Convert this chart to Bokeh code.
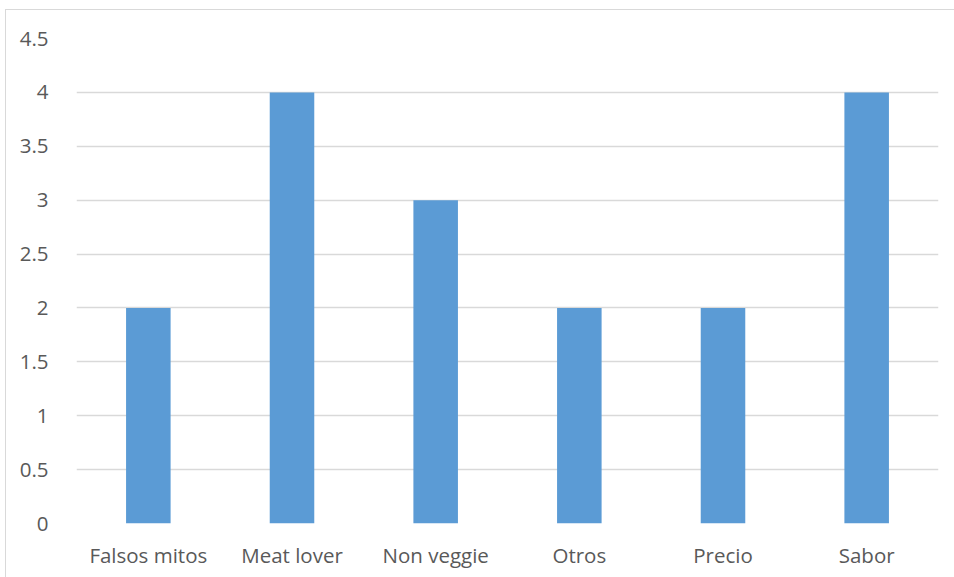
from bokeh.plotting import figure
from bokeh.models import CustomJSTickFormatter, FixedTicker, ColumnDataSource
from bokeh.embed import file_html
from bokeh.resources import INLINE

categories = ["Falsos mitos", "Meat lover", "Non veggie", "Otros", "Precio", "Sabor"]
values = [2, 4, 3, 2, 2, 4]
y_ticks = [0, 0.5, 1, 1.5, 2, 2.5, 3, 3.5, 4, 4.5]

src = ColumnDataSource(dict(cat=categories, val=values))

p = figure(x_range=categories, y_range=(0, 4.5), width=949, height=568,
           output_backend="svg", toolbar_location=None,
           min_border_left=70, min_border_right=17, min_border_top=28, min_border_bottom=55)
p.margin = (9, 0, 0, 5)
p.styles = {"border-left": "1px solid #d9d9d9", "border-top": "1px solid #d9d9d9"}

p.vbar(x="cat", top="val", width=0.31, source=src, fill_color="#5B9BD5", line_color=None)

p.x_range.range_padding = 0
p.outline_line_color = None
p.background_fill_color = "white"
p.border_fill_color = "white"

p.yaxis.ticker = FixedTicker(ticks=y_ticks)
p.yaxis.formatter = CustomJSTickFormatter(code="return tick.toString();")
for ax in (p.xaxis[0], p.yaxis[0]):
    ax.axis_line_color = None
    ax.major_tick_line_color = None
    ax.minor_tick_line_color = None
    ax.major_label_text_font = "Open Sans"
    ax.major_label_text_font_size = "20.5px"
    ax.major_label_text_color = "#595959"
p.yaxis.major_label_standoff = 22
p.xaxis.major_label_standoff = 11

p.xgrid.grid_line_color = None
p.ygrid.grid_line_color = "#d9d9d9"
p.ygrid.grid_line_width = 1.5
p.ygrid.ticker = FixedTicker(ticks=y_ticks)

open("out.html", "w").write(file_html(p, INLINE))
